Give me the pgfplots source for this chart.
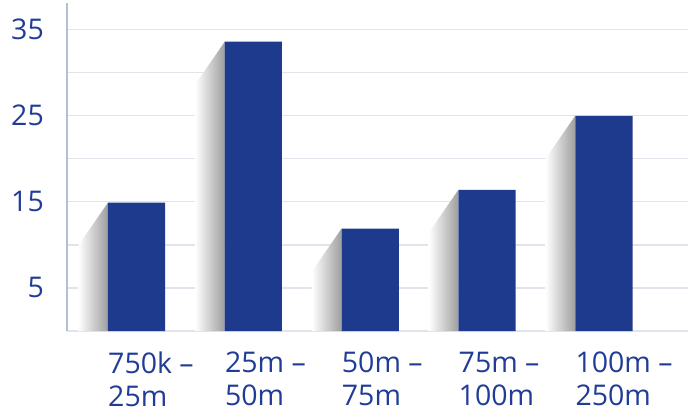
\documentclass[border=0pt]{standalone}
\usepackage{pgfplots}
\usepackage{pgfplotstable}
\pgfplotsset{compat=1.18}
\usepackage{fontspec}
\setmainfont{Open Sans}
\definecolor{barblue}{RGB}{30,58,140}
\definecolor{txtblue}{RGB}{33,60,150}
\definecolor{gridc}{RGB}{226,228,236}
\definecolor{axc}{RGB}{180,188,215}
\pgfplotstableread{
x v
0 14.9
1 33.6
2 11.9
3 16.4
4 25.0
}\datatab
\begin{document}
\begin{tikzpicture}
\path[use as bounding box] (0,0) rectangle (697pt,416pt);
\begin{axis}[
  at={(67pt,85pt)}, anchor=south west,
  scale only axis, width=621pt, height=328pt,
  xmin=-0.595, xmax=4.72, ymin=0, ymax=38.1,
  axis x line*=bottom, axis y line*=left,
  x axis line style={gridc, line width=1.5pt, -},
  y axis line style={axc, line width=1.5pt, -},
  xtick={0,1,2,3,4},
  xticklabels={{750k –\\25m},{25m –\\50m},{50m –\\75m},{75m –\\100m},{100m –\\250m}},
  ytick={5,15,25,35}, minor ytick={10,20,30},
  ymajorgrids, yminorgrids,
  major grid style={gridc, line width=1.2pt},
  minor grid style={gridc, line width=1.2pt},
  major tick length=0pt, minor tick length=0pt,
  /pgf/number format/assume math mode=true,
  tick label style={font=\fontsize{28.5}{33}\selectfont, text=txtblue, inner sep=0pt},
  xticklabel style={anchor=north west, align=left, xshift=-28.5pt, yshift=-21pt},
  yticklabel style={anchor=east, xshift=-23pt},
  clip=false,
]
% soft shadows to the left of each bar
\addplot[draw=none, left color=white, right color=black!38] coordinates {(-0.245,0) (-0.245,14.9) (-0.5,9.9) (-0.5,0)} \closedcycle;
\addplot[draw=none, left color=white, right color=black!38] coordinates {(0.755,0) (0.755,33.6) (0.5,28.6) (0.5,0)} \closedcycle;
\addplot[draw=none, left color=white, right color=black!38] coordinates {(1.755,0) (1.755,11.9) (1.5,6.9) (1.5,0)} \closedcycle;
\addplot[draw=none, left color=white, right color=black!38] coordinates {(2.755,0) (2.755,16.4) (2.5,11.4) (2.5,0)} \closedcycle;
\addplot[draw=none, left color=white, right color=black!38] coordinates {(3.755,0) (3.755,25.0) (3.5,20.0) (3.5,0)} \closedcycle;
\addplot[ybar, bar width=0.49, fill=barblue, draw=none] table[x=x, y=v] {\datatab};
\end{axis}
\end{tikzpicture}
\end{document}
